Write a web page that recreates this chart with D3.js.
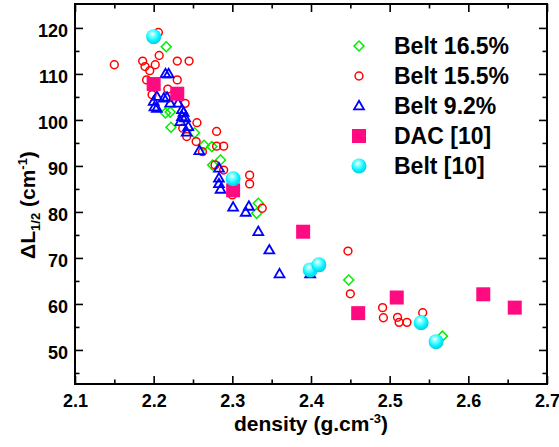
<!DOCTYPE html>
<html>
<head>
<meta charset="utf-8">
<script src="https://cdn.jsdelivr.net/npm/d3@7"></script>
<style>
  body { margin: 0; background: #fff; }
  text { font-family: "Liberation Sans", Arial, sans-serif; font-weight: bold; }
</style>
</head>
<body>
<div id="chart"></div>
<script>
// data per series: [density, deltaL]
const belt165 = [
    [2.216, 115.9], [2.215, 101.5], [2.221, 101.7], [2.222, 98.4], [2.252, 97.2],
    [2.264, 94.5], [2.274, 94.2], [2.285, 91.3], [2.275, 90.2], [2.333, 81.9],
    [2.331, 79.7], [2.448, 65.2], [2.567, 53.0]
];
const belt155 = [
    [2.150, 112.0], [2.186, 112.8], [2.189, 111.6], [2.195, 110.7], [2.191, 108.7],
    [2.202, 112.0], [2.207, 114.0], [2.206, 119.0], [2.230, 112.8], [2.245, 112.8],
    [2.230, 108.7], [2.218, 106.7], [2.198, 105.5], [2.240, 103.6], [2.255, 99.4],
    [2.237, 98.2], [2.242, 96.4], [2.280, 97.5], [2.254, 95.3], [2.280, 94.3],
    [2.289, 94.3], [2.262, 93.1], [2.278, 90.2], [2.289, 89.1], [2.322, 88.0],
    [2.322, 86.1], [2.300, 83.7], [2.338, 80.8], [2.447, 71.5], [2.450, 62.2],
    [2.491, 59.2], [2.492, 57.0], [2.510, 57.1], [2.512, 56.0], [2.522, 56.0],
    [2.542, 58.1]
];
const belt92 = [
    [2.215, 110.0], [2.219, 110.0], [2.204, 105.1], [2.200, 104.0], [2.201, 102.8],
    [2.204, 102.5], [2.213, 104.7], [2.217, 104.9], [2.221, 103.6], [2.231, 103.6],
    [2.236, 102.2], [2.236, 100.7], [2.238, 101.6], [2.240, 100.4], [2.234, 99.6],
    [2.244, 98.5], [2.242, 97.3], [2.258, 93.3], [2.283, 89.5], [2.283, 87.3],
    [2.283, 86.1], [2.285, 84.9], [2.301, 81.0], [2.317, 79.9], [2.321, 81.2],
    [2.333, 75.7], [2.347, 71.7], [2.360, 66.5], [2.399, 66.5]
];
const dac10 = [
    [2.200, 107.8], [2.230, 105.7], [2.301, 84.7], [2.390, 75.7], [2.460, 58.0],
    [2.509, 61.4], [2.619, 62.1], [2.659, 59.2]
];
const belt10 = [
    [2.200, 118.1], [2.301, 87.2], [2.399, 67.4], [2.410, 68.5], [2.540, 55.9],
    [2.559, 51.8]
];

const xMajor = [2.1, 2.2, 2.3, 2.4, 2.5, 2.6, 2.7];
const xMinor = [2.15, 2.25, 2.35, 2.45, 2.55, 2.65];
const yMajor = [50, 60, 70, 80, 90, 100, 110, 120];
const yMinor = [45, 55, 65, 75, 85, 95, 105, 115];

const legendNames = ["Belt 16.5%", "Belt 15.5%", "Belt 9.2%", "DAC [10]", "Belt [10]"];

// size of picture + plot box
const width = 559;
const height = 447;
const margin = { top: 4, right: 12, bottom: 63, left: 75 };
const w = width - margin.left - margin.right;
const h = height - margin.top - margin.bottom;
const font = "'Liberation Sans', Arial, sans-serif";

const svgRoot = d3.select("#chart")
    .append("svg")
    .attr("width", width)
    .attr("height", height);

// gradient for the balls
const grad = svgRoot.append("defs").append("radialGradient")
    .attr("id", "ball")
    .attr("cx", "0.45").attr("cy", "0.4").attr("r", "0.6")
    .attr("fx", "0.4").attr("fy", "0.3");
grad.append("stop").attr("offset", "0%").attr("stop-color", "#ffffff");
grad.append("stop").attr("offset", "30%").attr("stop-color", "#80ffff");
grad.append("stop").attr("offset", "70%").attr("stop-color", "#00f2ff");
grad.append("stop").attr("offset", "100%").attr("stop-color", "#10c8dc");

const svg = svgRoot.append("g")
    .attr("transform", "translate(" + margin.left + "," + margin.top + ")");

// scales
const x = d3.scaleLinear().domain([2.1, 2.7]).range([0, w]);
const y = d3.scaleLinear().domain([42.6, 125.2]).range([h, 0]);

// axes, ticks pointing inward
function styleAxis(g) {
    g.select(".domain").remove();
    g.selectAll("line").attr("stroke", "#000").attr("stroke-width", 1.6);
    g.selectAll("text")
        .attr("font-size", 18)
        .attr("font-weight", "bold")
        .attr("font-family", font)
        .attr("fill", "#000");
}
svg.append("g")
    .attr("transform", "translate(0," + h + ")")
    .call(d3.axisBottom(x).tickValues(xMajor).tickSize(-8).tickPadding(10).tickFormat(d3.format(".1f")))
    .call(styleAxis);
svg.append("g")
    .attr("transform", "translate(0," + h + ")")
    .call(d3.axisBottom(x).tickValues(xMinor).tickSize(-4.5).tickFormat(""))
    .call(styleAxis);
svg.append("g")
    .call(d3.axisTop(x).tickValues(xMajor).tickSize(-8).tickFormat(""))
    .call(styleAxis);
svg.append("g")
    .call(d3.axisTop(x).tickValues(xMinor).tickSize(-4.5).tickFormat(""))
    .call(styleAxis);
svg.append("g")
    .call(d3.axisLeft(y).tickValues(yMajor).tickSize(-8).tickPadding(7))
    .call(styleAxis)
    .call(g => g.selectAll("text").attr("dy", "0.45em"));
svg.append("g")
    .call(d3.axisLeft(y).tickValues(yMinor).tickSize(-4.5).tickFormat(""))
    .call(styleAxis);
svg.append("g")
    .attr("transform", "translate(" + w + ",0)")
    .call(d3.axisRight(y).tickValues(yMajor).tickSize(-8).tickFormat(""))
    .call(styleAxis);
svg.append("g")
    .attr("transform", "translate(" + w + ",0)")
    .call(d3.axisRight(y).tickValues(yMinor).tickSize(-4.5).tickFormat(""))
    .call(styleAxis);

// frame
svg.append("rect")
    .attr("width", w).attr("height", h)
    .attr("fill", "none").attr("stroke", "#000").attr("stroke-width", 2);

// markers
const diamond = d3.symbol().type(d3.symbolSquare).size(50);
const circle = d3.symbol().type(d3.symbolCircle).size(48);
const triangle = d3.symbol().type(d3.symbolTriangle).size(42);

function drawSeries(data, draw) {
    svg.append("g").selectAll("g")
        .data(data)
        .enter().append("g")
        .attr("transform", d => "translate(" + x(d[0]) + "," + y(d[1]) + ")")
        .each(function () { draw(d3.select(this)); });
}
function greenMark(g) {
    g.append("path").attr("d", diamond).attr("transform", "rotate(45)")
        .attr("fill", "none").attr("stroke", "#00ee00").attr("stroke-width", 1.5);
}
function redMark(g) {
    g.append("path").attr("d", circle)
        .attr("fill", "none").attr("stroke", "#ff0000").attr("stroke-width", 1.5);
}
function blueMark(g) {
    g.append("path").attr("d", triangle).attr("transform", "translate(0,0.5)")
        .attr("fill", "none").attr("stroke", "#0000ff").attr("stroke-width", 1.8);
}
function pinkMark(g) {
    g.append("rect").attr("x", -7).attr("y", -7).attr("width", 14).attr("height", 14)
        .attr("fill", "#ff0a80");
}
function cyanMark(g) {
    g.append("circle").attr("r", 7.5).attr("fill", "url(#ball)");
}

drawSeries(belt165, greenMark);
drawSeries(belt155, redMark);
drawSeries(belt92, blueMark);
drawSeries(dac10, pinkMark);
drawSeries(belt10, cyanMark);

// legend
const marks = [greenMark, redMark, blueMark, pinkMark, cyanMark];
const legend = svgRoot.append("g");
legendNames.forEach((name, i) => {
    const ly = 46 + i * 30;
    marks[i](legend.append("g").attr("transform", "translate(359," + ly + ")"));
    legend.append("text")
        .attr("x", 394).attr("y", ly + 8)
        .attr("font-size", 23)
        .text(name);
});

// axis titles
const xt = svgRoot.append("text")
    .attr("x", margin.left + w / 2).attr("y", 431)
    .attr("text-anchor", "middle")
    .attr("font-size", 21);
xt.append("tspan").text("density (g.cm");
xt.append("tspan").attr("dy", -8).attr("font-size", 13).text("-3");
xt.append("tspan").attr("dy", 8).text(")");

const yt = svgRoot.append("text")
    .attr("transform", "translate(35,205) rotate(-90)")
    .attr("text-anchor", "middle")
    .attr("font-size", 21);
yt.append("tspan").text("ΔL");
yt.append("tspan").attr("dy", 5).attr("font-size", 13).text("1/2");
yt.append("tspan").attr("dy", -5).text(" (cm");
yt.append("tspan").attr("dy", -8).attr("font-size", 13).text("-1");
yt.append("tspan").attr("dy", 8).text(")");
</script>
</body>
</html>
